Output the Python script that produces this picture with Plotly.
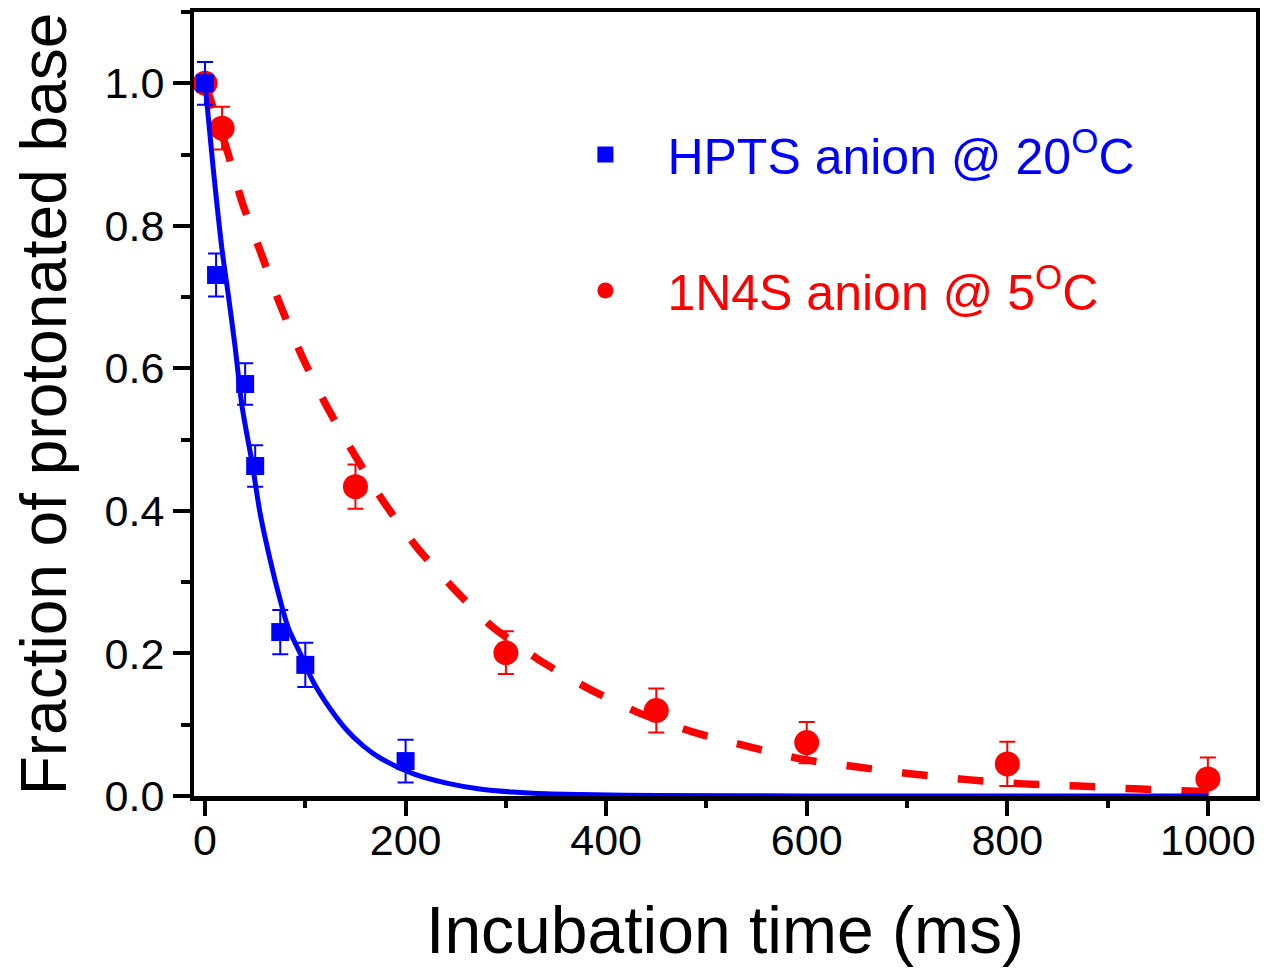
import plotly.graph_objects as go

# ---- data ----
hpts_time = [0, 11, 40, 50, 75, 100, 200]
hpts_frac = [1.0, 0.731, 0.578, 0.463, 0.230, 0.184, 0.049]
hpts_err = [0.030, 0.030, 0.029, 0.029, 0.031, 0.031, 0.030]

n4s_time = [0, 17, 150, 300, 450, 600, 800, 1000]
n4s_frac = [1.0, 0.937, 0.434, 0.201, 0.120, 0.075, 0.045, 0.024]
n4s_err = [0.0, 0.030, 0.031, 0.030, 0.031, 0.029, 0.031, 0.030]

hpts_fit_time = [0, 8, 17, 23, 30, 37, 47, 55, 65, 74, 83, 95, 108, 125, 141,
                 158, 175, 208, 241, 274, 307, 341, 374, 450, 600, 800, 1000]
hpts_fit_frac = [1.0, 0.883, 0.766, 0.705, 0.630, 0.546, 0.467, 0.396, 0.331,
                 0.280, 0.236, 0.200, 0.160, 0.122, 0.093, 0.070, 0.053,
                 0.031, 0.018, 0.0098, 0.0055, 0.003, 0.002, 0.0007, 0.0001,
                 0.0, 0.0]

n4s_fit_time = [0, 22, 37, 56, 75, 97, 122, 149, 178, 210, 246, 286, 333, 382,
                432, 486, 540, 594, 649, 705, 760, 816, 871, 927, 982, 1000]
n4s_fit_frac = [1.0, 0.906, 0.833, 0.761, 0.689, 0.616, 0.545, 0.479, 0.413,
                0.351, 0.294, 0.238, 0.191, 0.151, 0.117, 0.090, 0.070, 0.052,
                0.041, 0.031, 0.023, 0.017, 0.014, 0.010, 0.007, 0.006]

x_ticks = [0, 200, 400, 600, 800, 1000]
y_ticks = [0.0, 0.2, 0.4, 0.6, 0.8, 1.0]
y_tick_text = ["0.0", "0.2", "0.4", "0.6", "0.8", "1.0"]

hpts_name = "<span style='color:#0000FF'>HPTS anion @ 20<sup>O</sup>C</span>"
n4s_name = "<span style='color:#FF0000'>1N4S anion @ 5<sup>O</sup>C</span>"

BLUE = "#0000FF"
RED = "#FF0000"
FONT = "Liberation Sans, Arial, Helvetica, sans-serif"

fig = go.Figure()

fig.add_trace(go.Scatter(
    x=n4s_time, y=n4s_frac, mode="markers", name=n4s_name,
    legendgroup="b", legendrank=2,
    marker=dict(symbol="circle", size=25, color=RED),
    error_y=dict(type="data", array=n4s_err, color=RED, thickness=2, width=8),
))
fig.add_trace(go.Scatter(
    x=n4s_fit_time, y=n4s_fit_frac, mode="lines", showlegend=False,
    line=dict(color=RED, width=7.5, dash="26px,30px", shape="spline", smoothing=0.6),
))
fig.add_trace(go.Scatter(
    x=hpts_time, y=hpts_frac, mode="markers", name=hpts_name,
    legendgroup="a", legendrank=1,
    marker=dict(symbol="square", size=18, color=BLUE),
    error_y=dict(type="data", array=hpts_err, color=BLUE, thickness=2, width=8),
))
fig.add_trace(go.Scatter(
    x=hpts_fit_time, y=hpts_fit_frac, mode="lines", showlegend=False,
    line=dict(color=BLUE, width=5, shape="spline", smoothing=0.8),
))

fig.update_layout(
    width=1262, height=964,
    margin=dict(l=186, r=14, t=4, b=176),
    paper_bgcolor="white", plot_bgcolor="white",
    font=dict(family=FONT, color="black"),
    legend=dict(
        x=0.329, y=0.868, xanchor="left", yanchor="top",
        bgcolor="rgba(0,0,0,0)", borderwidth=0,
        font=dict(size=50, family=FONT),
        tracegroupgap=68, itemwidth=114,
    ),
    xaxis=dict(
        range=[-11, 1048], showgrid=False, zeroline=False, automargin=False,
        showline=True, linewidth=5, linecolor="black", mirror=True,
        ticks="outside", ticklen=15, tickwidth=4, tickcolor="black",
        tickvals=x_ticks, ticktext=[str(v) for v in x_ticks],
        tickfont=dict(size=43, family=FONT), ticklabelstandoff=-13,
        minor=dict(dtick=100, tick0=0, ticks="outside", ticklen=7,
                   tickwidth=4, tickcolor="black"),
        title=dict(text="Incubation time (ms)", font=dict(size=66, family=FONT),
                   standoff=46),
    ),
    yaxis=dict(
        range=[0, 1.1], showgrid=False, zeroline=False, automargin=False,
        showline=True, linewidth=4, linecolor="black", mirror=True,
        ticks="outside", ticklen=17, tickwidth=4, tickcolor="black",
        tickvals=y_ticks, ticktext=y_tick_text,
        tickfont=dict(size=43, family=FONT), ticklabelstandoff=0,
        minor=dict(dtick=0.1, tick0=0, ticks="outside", ticklen=9,
                   tickwidth=4, tickcolor="black"),
        title=dict(text="Fraction of protonated base", font=dict(size=64, family=FONT),
                   standoff=35),
    ),
)

fig.write_html("out.html")
